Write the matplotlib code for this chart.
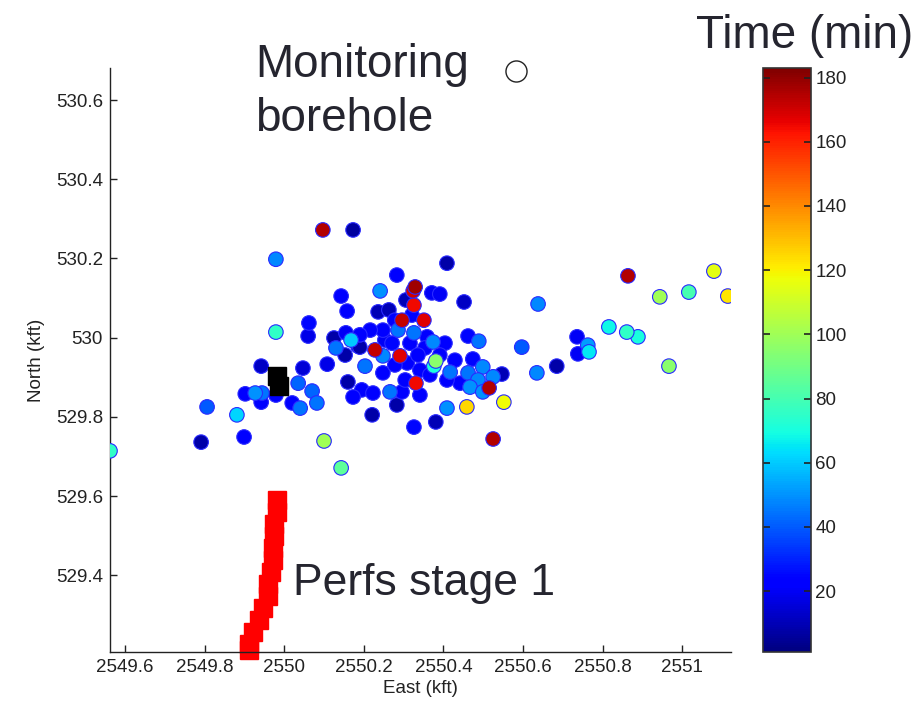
import numpy as np
import matplotlib
matplotlib.use("Agg")
import matplotlib.pyplot as plt
from matplotlib.colors import Normalize
from matplotlib.cm import ScalarMappable

plt.rcParams['font.family'] = ['Liberation Sans', 'DejaVu Sans']

# Microseismic events: East (kft), North (kft), Time (min)
east = [2549.562, 2549.791, 2549.806, 2549.881, 2549.899, 2549.902, 2549.927, 2549.944,
        2549.942, 2549.942, 2549.979, 2549.979, 2549.979, 2550.020, 2550.040, 2550.035,
        2550.047, 2550.070, 2550.082, 2550.062, 2550.060, 2550.097, 2550.173, 2550.100,
        2550.143, 2550.108, 2550.130, 2550.125, 2550.155, 2550.168, 2550.185, 2550.153,
        2550.143, 2550.158, 2550.241, 2550.283, 2550.236, 2550.263, 2550.329, 2550.324,
        2550.326, 2550.296, 2550.351, 2550.306, 2550.371, 2550.391, 2550.409, 2550.452,
        2550.638, 2550.248, 2550.286, 2550.326, 2550.374, 2550.404, 2550.359, 2550.271,
        2550.228, 2550.291, 2550.248, 2550.203, 2550.190, 2550.381, 2550.376, 2550.462,
        2550.489, 2550.597, 2550.474, 2550.499, 2550.525, 2550.547, 2550.462, 2550.487,
        2550.467, 2550.515, 2550.499, 2550.442, 2550.417, 2550.409, 2550.635, 2550.552,
        2550.459, 2550.409, 2550.381, 2550.326, 2550.331, 2550.160, 2550.195, 2550.223,
        2550.266, 2550.296, 2550.283, 2550.173, 2550.221, 2550.248, 2550.525, 2550.309,
        2550.341, 2550.316, 2550.354, 2550.864, 2551.080, 2551.115, 2551.017, 2550.944,
        2550.816, 2550.861, 2550.889, 2550.967, 2550.736, 2550.763, 2550.766, 2550.738,
        2550.685, 2550.278, 2550.253, 2550.216, 2550.336, 2550.366, 2550.321, 2550.278,
        2550.190, 2550.341, 2550.304, 2550.391, 2550.429]
north = [529.714, 529.736, 529.825, 529.805, 529.749, 529.858, 529.860, 529.860,
         529.837, 529.928, 529.855, 530.198, 530.014, 529.835, 529.822, 529.885,
         529.923, 529.865, 529.835, 530.037, 530.004, 530.272, 530.272, 529.739,
         529.671, 529.933, 529.974, 529.999, 530.012, 529.994, 529.979, 529.956,
         530.105, 530.067, 530.118, 530.158, 530.065, 530.070, 530.128, 530.118,
         530.082, 530.044, 530.044, 530.095, 530.113, 530.110, 530.188, 530.090,
         530.085, 530.019, 530.019, 530.012, 529.989, 529.986, 530.002, 529.986,
         529.969, 529.954, 529.954, 529.928, 529.976, 529.941, 529.928, 530.004,
         529.991, 529.976, 529.946, 529.926, 529.901, 529.908, 529.911, 529.893,
         529.875, 529.873, 529.863, 529.885, 529.913, 529.893, 529.911, 529.837,
         529.825, 529.822, 529.787, 529.774, 529.885, 529.888, 529.868, 529.860,
         529.863, 529.863, 529.830, 529.850, 529.805, 529.911, 529.744, 529.936,
         529.918, 529.986, 529.974, 530.156, 530.168, 530.105, 530.115, 530.103,
         530.027, 530.014, 530.002, 529.928, 530.002, 529.981, 529.964, 529.959,
         529.928, 530.044, 529.994, 530.019, 529.956, 529.906, 530.057, 529.931,
         530.007, 529.855, 529.893, 529.956, 529.943]
time_min = [75, 8, 40, 62, 22, 22, 50, 45,
            22, 12, 22, 48, 75, 22, 45, 42,
            15, 42, 45, 25, 18, 175, 6, 100,
            85, 18, 45, 8, 20, 60, 8, 8,
            22, 22, 50, 22, 10, 10, 178, 170,
            165, 172, 168, 10, 20, 20, 8, 12,
            48, 22, 45, 45, 48, 22, 22, 25,
            172, 168, 48, 45, 8, 95, 70, 25,
            45, 40, 25, 48, 48, 10, 45, 48,
            50, 175, 50, 22, 45, 22, 48, 118,
            125, 50, 10, 25, 165, 8, 22, 22,
            45, 22, 8, 22, 8, 22, 175, 22,
            22, 22, 22, 175, 115, 122, 80, 100,
            68, 75, 70, 95, 20, 52, 65, 20,
            8, 22, 20, 22, 22, 22, 22, 22,
            22, 22, 22, 22, 22]

# Perforations, stage 1
perf_east = [2549.982, 2549.982, 2549.974, 2549.974, 2549.972, 2549.972, 2549.967,
             2549.959, 2549.959, 2549.947, 2549.937, 2549.922, 2549.912, 2549.912]
perf_north = [529.590, 529.560, 529.529, 529.499, 529.469, 529.438, 529.408,
              529.378, 529.347, 529.317, 529.287, 529.257, 529.226, 529.211]

# Black squares (treatment well marker)
well_east = [2549.982, 2549.986]
well_north = [529.902, 529.879]

# Monitoring borehole
mon_east = [2550.582]
mon_north = [530.673]

cbar_ticks = [20, 40, 60, 80, 100, 120, 140, 160, 180]
x_ticks = [2549.6, 2549.8, 2550, 2550.2, 2550.4, 2550.6, 2550.8, 2551]
x_ticklabels = ['2549.6', '2549.8', '2550', '2550.2', '2550.4', '2550.6', '2550.8', '2551']
y_ticks = [529.4, 529.6, 529.8, 530, 530.2, 530.4, 530.6]
y_ticklabels = ['529.4', '529.6', '529.8', '530', '530.2', '530.4', '530.6']

W, H = 920, 711
fig = plt.figure(figsize=(W / 100, H / 100), dpi=100)
ax = fig.add_axes([110 / W, 1 - 652 / H, 621 / W, 584 / H])
ax.set_xlim(2549.562, 2551.123)
ax.set_ylim(529.206, 530.681)

norm = Normalize(vmin=1, vmax=183)
cmap = plt.get_cmap('jet')

e = np.array(east); n = np.array(north); t = np.array(time_min, dtype=float)
order = np.argsort(t, kind='stable')
ax.scatter(e[order], n[order], c=t[order], cmap=cmap, norm=norm, s=110,
           edgecolors='#2a2aff', linewidths=0.8, zorder=3)

ax.plot(perf_east, perf_north, 's', color='#ff0000', mec='#ff0000', ms=13.5,
        clip_on=False, zorder=2)
ax.plot(well_east, well_north, 's', color='black', mec='black', ms=13.2, zorder=4)
ax.scatter(mon_east, mon_north, s=230, facecolors='white', edgecolors='#222222',
           linewidths=1.0, clip_on=False, zorder=5)

for sp in ['top', 'right']:
    ax.spines[sp].set_visible(False)
for sp in ['left', 'bottom']:
    ax.spines[sp].set_color('#222222')
    ax.spines[sp].set_linewidth(1.0)

ax.set_xticks(x_ticks)
ax.set_xticklabels(x_ticklabels)
ax.set_yticks(y_ticks)
ax.set_yticklabels(y_ticklabels)
ax.tick_params(direction='in', length=5, width=1, colors='#222222', labelsize=13.5,
               labelcolor='#222222', pad=5)
ax.set_xlabel('East (kft)', fontsize=13.5, color='#222222', labelpad=3)
ax.set_ylabel('North (kft)', fontsize=13.5, color='#222222', labelpad=8)

cax = fig.add_axes([763 / W, 1 - 652 / H, 48 / W, 584 / H])
cb = fig.colorbar(ScalarMappable(norm=norm, cmap=cmap), cax=cax, ticks=cbar_ticks)
cb.outline.set_edgecolor('#333333')
cb.outline.set_linewidth(1.2)
cax.tick_params(axis='y', which='major', direction='in', length=5, width=1.2,
                left=True, right=True, labelleft=False, labelright=True,
                labelsize=13.5, colors='#222222', pad=3)
cax.minorticks_off()

txt_color = '#25252f'
fig.text(255 / W, 1 - 77 / H, 'Monitoring', ha='left', va='baseline',
         fontsize=33, color=txt_color)
fig.text(255 / W, 1 - 131 / H, 'borehole', ha='left', va='baseline',
         fontsize=33, color=txt_color)
fig.text(805 / W, 1 - 48 / H, 'Time (min)', ha='center', va='baseline',
         fontsize=33, color=txt_color)
fig.text(293 / W, 1 - 595 / H, 'Perfs stage 1', ha='left', va='baseline',
         fontsize=32, color=txt_color)

fig.savefig('out.png', dpi=100)
